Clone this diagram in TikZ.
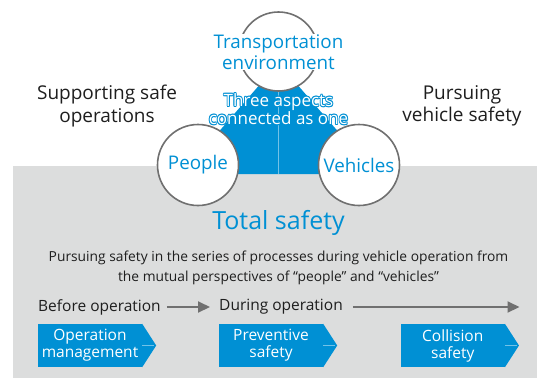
\documentclass[tikz,border=0pt]{standalone}
\usepackage{fontspec}
\setmainfont{Open Sans}
\usetikzlibrary{arrows.meta}

\definecolor{tsblue}{RGB}{0,144,212}
\definecolor{tsgray}{RGB}{220,221,221}
\definecolor{tsline}{RGB}{112,112,112}
\definecolor{tstext}{RGB}{30,30,30}

\newcommand{\threetext}{Three aspects\\connected as one}

\tikzset{
  aspect circ/.style={circle, draw=tsline, line width=1.6pt, fill=white,
    minimum size=81pt, inner sep=0pt, text=tsblue,
    font=\fontsize{18.8}{22}\selectfont},
  side label/.style={align=center, text=tstext,
    font=\fontsize{19}{22.5}\selectfont},
  three label/.style={align=center, font=\fontsize{17}{18}\selectfont},
  step text/.style={text=tstext, inner sep=0pt,
    font=\fontsize{15.5}{18}\selectfont},
  stage box/.style={fill=tsblue, text=white, align=center,
    minimum width=104pt, minimum height=43pt, inner sep=0pt,
    font=\fontsize{15.5}{17}\selectfont},
  flow arrow/.style={draw=tsline, line width=2pt,
    -{Triangle[length=12pt,width=11pt]}},
  seam/.style={draw=tsblue!55!white, line width=0.5pt}
}

\begin{document}
\begin{tikzpicture}[x=1pt,y=-1pt]
\useasboundingbox (0,0) rectangle (537,378);
% grey panel
\fill[tsgray] (13,166) rectangle (537,378);
% blue triangle between the three aspects
\fill[tsblue] (278.5,63) -- (375,174) -- (182,174) -- cycle;
\draw[seam] (278.5,88) -- (278.5,174);
% the three circles
\node[aspect circ, minimum size=79pt] (env) at (278.5,51.5) {};
\node[aspect circ] (people) at (198,165) {People};
\node[aspect circ] (vehicles) at (359,165) {Vehicles};
\node[fill=white, inner sep=1pt, align=center, text=tsblue,
  font=\fontsize{18.8}{21}\selectfont] (envlabel) at (278.5,52) {Transportation\\environment};
% outlined text
\coordinate (three) at (278.5,109);
\foreach \a in {0,45,...,315}
  \node[three label, text=tsblue] at ([shift={(\a:0.9)}]three) {\threetext};
\node[three label, text=white] (threelabel) at (three) {\threetext};
% side texts
\node[side label] (support) at (107,106) {Supporting safe\\operations};
\node[side label] (pursue) at (462,106) {Pursuing\\vehicle safety};
% total safety
\node[text=tsblue, font=\fontsize{25}{30}\selectfont] (total) at (278.5,223) {Total safety};
\node[align=center, text=tstext, font=\fontsize{13.8}{20}\selectfont] (desc) at (278.5,268)
  {Pursuing safety in the series of processes during vehicle operation from\\
   the mutual perspectives of ``people'' and ``vehicles''};
% process line
\node[step text, anchor=west] (before) at (38,307) {Before operation};
\node[step text, anchor=west] (during) at (219,307) {During operation};
\coordinate (lineend) at (519.5,307);
\draw[flow arrow] ([xshift=6pt]before.east) -- ([xshift=-9pt]during.west);
\draw[flow arrow] ([xshift=10pt]during.east) -- (lineend);
% stages
\node[stage box] (opmgmt) at (90,345.5) {Operation\\management};
\node[stage box] (prevent) at (271,345.5) {Preventive\\safety};
\node[stage box] (collide) at (452.75,345.5) {Collision\\safety};
\foreach \s in {opmgmt,prevent,collide} {
  \fill[tsblue] (\s.north east) -- ([xshift=14pt]\s.east) -- (\s.south east) -- cycle;
  \draw[seam] (\s.east) -- ([xshift=12pt]\s.east);
}
\end{tikzpicture}
\end{document}
